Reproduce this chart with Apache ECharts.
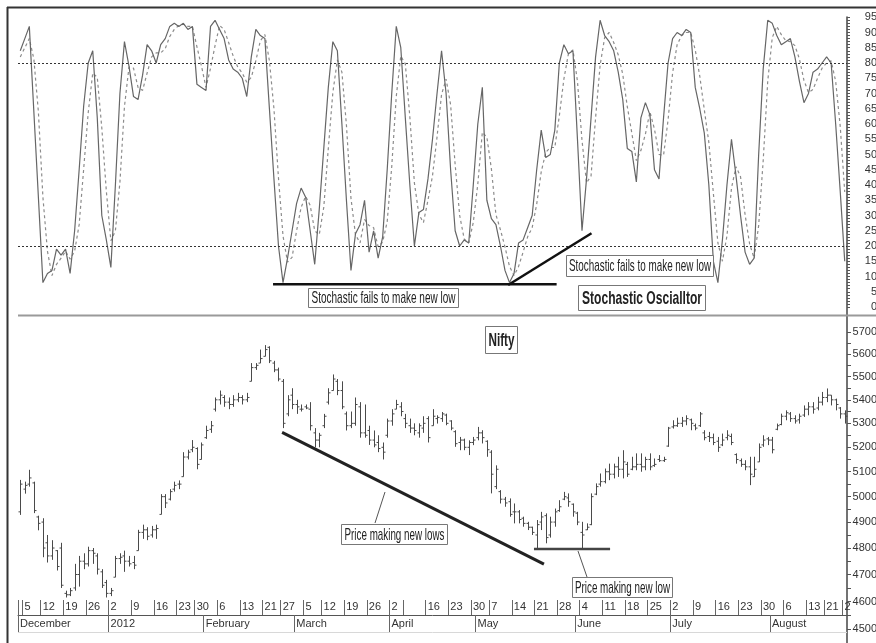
<!DOCTYPE html>
<html><head><meta charset="utf-8">
<script src="https://cdn.jsdelivr.net/npm/echarts@6/dist/echarts.min.js"></script>
<style>html,body{margin:0;padding:0;background:#fff}#c{width:876px;height:643px}</style>
</head><body><div id="c"></div><script>
// ---------------- DATA ----------------
const HOLIDAYS = ['2011-12-06','2012-01-26','2012-02-20','2012-03-08','2012-04-05','2012-04-06','2012-05-01','2012-08-15','2012-08-20'];
const weekLabels = ['','5','12','19','26','2','9','16','23','30','6','13','21','27','5','12','19','26','2','','16','23','30','7','14','21','28','4','11','18','25','2','9','16','23','30','6','13','21','2'];
const monthLabels = ['December','2012','February','March','April','May','June','July','August'];
const stochLabels = [0,5,10,15,20,25,30,35,40,45,50,55,60,65,70,75,80,85,90,95];
const priceLabels = [4500,4600,4700,4800,4900,5000,5100,5200,5300,5400,5500,5600,5700];

const kLine = [84,88,92,64,36,8,11,12,19,17,
19,11,25,45,66,80,84,62,30,22,
13,40,70,87,79,69,68,76,86,84,
80,86,88,92,93,92,93,91,92,73,
72,71,92,94,91,88,81,78,77,75,
69,82,91,89,88,65,42,20,8,16,
25,34,39,36,25,14,32,52,72,87,
84,60,35,12,24,27,35,18,25,16,
23,45,70,92,85,62,40,20,31,32,
42,55,70,84,70,45,25,20,22,21,
40,60,72,35,29,27,20,12,8,11,
21,22,26,30,45,58,49,50,58,80,
86,83,84,55,25,42,62,82,94,89,
87,84,77,68,52,51,41,62,67,63,
45,42,62,80,88,90,89,91,90,72,
65,57,40,15,8,22,40,55,43,30,
18,14,16,50,78,94,93,89,86,87,
88,82,74,67,70,77,78,80,82,80,
60,38,15];
const dLine = [82,85,88,81.3,64,36,18.3,10.3,14,16,
18.3,15.7,18.3,27,45.3,63.7,76.7,75.3,58.7,38,
21.7,25,41,65.7,78.7,78.3,72,71,76.7,82,
83.3,83.3,84.7,88.7,91,92.3,92.7,92,92,85.3,
79,72,78.3,85.7,92.3,91,86.7,82.3,78.7,76.7,
73.7,75.3,80.7,87.3,89.3,80.7,65,42.3,23.3,14.7,
16.3,25,32.7,36.3,33.3,25,23.7,32.7,52,70.3,
81,77,59.7,35.7,23.7,21,28.7,26.7,26,19.7,
21.3,28,46,69,82.3,79.7,62.3,40.7,30.3,27.7,
35,43,55.7,69.7,74.7,66.3,46.7,30,22.3,21,
27.7,40.3,57.3,55.7,45.3,30.3,25.3,19.7,13.3,10.3,
13.3,18,23,26,33.7,44.3,50.7,52.3,52.3,62.7,
74.7,83,84.3,74,54.7,40.7,43,62,79.3,88.3,
90,86.7,82.7,76.3,65.7,57,48,51.3,56.7,64,
58.3,50,49.7,61.3,76.7,86,89,90,90,84.3,
75.7,64.7,54,37.3,21,15,23.3,39,46,42.7,
30.3,20.7,16,26.7,48,74,88.3,92,89.3,87.3,
87,85.7,81.3,74.3,70.3,71.3,75,78.3,80,80.7,
74,59.3,37.7];

const openP = [4940,5030,5050,5055,4920,4900,4820,4770,4790,4800,
4630,4625,4650,4700,4750,4740,4790,4770,4710,4670,
4630,4690,4760,4770,4750,4745,4790,4860,4870,4850,
4870,4930,5000,4990,5030,5050,5080,5160,5190,5195,
5150,5240,5275,5360,5400,5410,5390,5380,5400,5410,
5400,5480,5540,5560,5590,5630,5560,5530,5480,5340,
5420,5380,5360,5370,5360,5260,5230,5290,5390,5440,
5480,5440,5340,5290,5300,5370,5260,5270,5230,5220,
5200,5250,5310,5360,5370,5320,5290,5280,5260,5280,
5320,5290,5320,5320,5335,5310,5265,5220,5230,5200,
5220,5240,5260,5225,5180,5040,5020,4990,4980,4940,
4940,4915,4895,4880,4850,4900,4925,4850,4900,4945,
4990,4995,4970,4935,4860,4870,4890,5010,5050,5060,
5100,5090,5120,5110,5130,5110,5120,5130,5120,5150,
5125,5150,5145,5205,5285,5290,5300,5310,5315,5290,
5290,5260,5245,5240,5225,5210,5240,5245,5170,5145,
5130,5120,5080,5140,5210,5235,5230,5275,5295,5330,
5340,5320,5315,5335,5360,5370,5365,5390,5410,5420,
5400,5365,5340];
const highP = [5067,5060,5108,5060,4925,4915,4850,4830,4792,4820,
4640,4650,4740,4770,4780,4805,4800,4780,4720,4680,
4650,4770,4780,4790,4770,4770,4870,4890,4880,4885,
4890,5010,5010,5030,5060,5065,5180,5190,5230,5200,
5220,5290,5310,5410,5440,5420,5410,5420,5430,5420,
5430,5560,5560,5620,5640,5635,5570,5540,5490,5420,
5450,5400,5380,5380,5390,5280,5260,5340,5450,5510,
5490,5480,5350,5350,5410,5390,5380,5290,5270,5250,
5220,5320,5360,5400,5390,5340,5320,5300,5300,5330,
5330,5360,5334,5348,5341,5313,5271,5243,5236,5229,
5243,5285,5271,5229,5188,5126,5026,4999,4993,4973,
4947,4921,4901,4882,4908,4940,4934,4921,4953,4986,
5019,5013,4973,4940,4901,4895,5013,5053,5093,5113,
5133,5133,5161,5188,5140,5161,5175,5175,5161,5175,
5154,5168,5161,5285,5313,5324,5327,5334,5320,5299,
5348,5271,5264,5257,5243,5257,5271,5257,5175,5154,
5147,5161,5161,5216,5250,5243,5243,5299,5341,5355,
5348,5334,5341,5376,5390,5390,5413,5434,5449,5420,
5405,5369,5355];
const lowP = [4928,5012,5040,4935,4868,4765,4745,4755,4715,4650,
4615,4620,4640,4655,4720,4730,4740,4700,4650,4615,
4620,4690,4740,4710,4730,4720,4790,4835,4830,4840,
4835,4930,4955,4985,5020,5030,5080,5150,5180,5110,
5150,5235,5260,5350,5380,5370,5360,5370,5390,5380,
5390,5480,5530,5560,5590,5560,5520,5480,5280,5330,
5360,5340,5350,5360,5270,5200,5200,5280,5380,5440,
5420,5360,5270,5280,5290,5240,5240,5210,5200,5180,
5150,5240,5290,5360,5330,5280,5260,5250,5240,5260,
5220,5290,5299,5306,5292,5271,5202,5188,5188,5168,
5209,5229,5216,5161,5013,5030,4973,4960,4921,4895,
4895,4882,4869,4850,4799,4869,4818,4840,4882,4940,
4986,4960,4921,4888,4797,4869,4888,5006,5040,5053,
5066,5073,5079,5073,5079,5106,5106,5100,5106,5106,
5120,5140,5140,5202,5278,5285,5285,5292,5271,5271,
5285,5229,5222,5209,5181,5205,5229,5209,5133,5120,
5106,5046,5079,5140,5202,5209,5175,5271,5292,5313,
5306,5299,5299,5327,5334,5341,5355,5376,5390,5376,
5355,5320,5299];
const closeP = [5050,5045,5075,4945,4895,4800,4770,4800,4730,4660,
4625,4640,4700,4750,4740,4790,4780,4720,4660,4630,
4640,4760,4765,4750,4740,4735,4860,4870,4845,4870,
4875,5000,4975,5020,5045,5050,5160,5180,5200,5130,
5210,5270,5290,5400,5420,5390,5380,5400,5410,5400,
5410,5540,5550,5580,5620,5570,5530,5490,5300,5400,
5380,5370,5360,5365,5290,5230,5250,5330,5430,5490,
5440,5370,5290,5300,5380,5260,5250,5230,5210,5195,
5180,5310,5340,5380,5350,5300,5280,5270,5290,5300,
5240,5330,5325,5340,5300,5280,5215,5230,5200,5220,
5230,5260,5240,5190,5090,5110,4990,4975,4930,4940,
4910,4895,4880,4860,4890,4920,4840,4900,4940,4960,
5000,4980,4940,4900,4850,4880,5000,5040,5060,5100,
5090,5120,5110,5140,5090,5120,5130,5120,5150,5120,
5130,5145,5150,5280,5290,5300,5310,5320,5300,5280,
5340,5240,5240,5220,5200,5230,5250,5220,5150,5130,
5120,5090,5110,5200,5230,5230,5190,5290,5330,5345,
5320,5310,5330,5360,5370,5360,5390,5410,5420,5400,
5380,5340,5330];

// annotation anchors (index, value) in data space
const stochSupport = [[55.8, 7.5], [118.4, 7.5]];
const stochRising = [[107.7, 7.2], [126.1, 24.2]];
const priceTrend = [[57.8, 5262], [115.6, 4739]];
const priceFloor = [[113.4, 4796], [130.2, 4796]];

// ---------------- BUILD ----------------
const days = [];
for (let t = Date.UTC(2011, 11, 2); t <= Date.UTC(2012, 7, 27); t += 86400000) {
  const d = new Date(t), wd = d.getUTCDay();
  if (wd === 0 || wd === 6) continue;
  if (HOLIDAYS.includes(d.toISOString().slice(0, 10))) continue;
  days.push(d);
}
const N = kLine.length;
const weekStarts = [], monthStarts = [];
days.forEach((d, i) => {
  if (i === 0 || d.getUTCDay() <= days[i - 1].getUTCDay() || d - days[i - 1] >= 7 * 86400000) weekStarts.push(i);
  if (i === 0 || d.getUTCMonth() !== days[i - 1].getUTCMonth()) monthStarts.push(i);
});
const weekMap = {}, monthMap = {};
weekStarts.forEach((i, k) => weekMap[i - 0.5] = weekLabels[k] !== undefined ? weekLabels[k] : String(days[i].getUTCDate()));
monthStarts.forEach((i, k) => monthMap[i - 0.5] = monthLabels[k] || '');

const LN = Math.log;
const NARROW = "'Liberation Sans Narrow','Arial Narrow','Liberation Sans',Arial,sans-serif";
const X0 = -0.5, X1 = N - 0.5;
const GL = 18, GR = 29;

const stochTicks = []; for (let v = 0; v <= 95; v += 1) stochTicks.push(v);
const priceTicks = []; for (let p = 4500; p <= 5700; p += 50) priceTicks.push(LN(p));

const ohlc = openP.map((o, i) => [i, LN(o), LN(highP[i]), LN(lowP[i]), LN(closeP[i])]);

const chart = echarts.init(document.getElementById('c'), null, {renderer: 'canvas'});

// text boxes
const measure = document.createElement('canvas').getContext('2d');
const boxes = [
  {x: 308, y: 288, w: 150, h: 19, text: 'Stochastic fails to make new low', size: 17, weight: 'normal', tw: 144},
  {x: 566, y: 255, w: 147, h: 21, text: 'Stochastic fails to make new low', size: 17, weight: 'normal', tw: 142},
  {x: 578, y: 285, w: 127, h: 25, text: 'Stochastic Oscialltor', size: 19, weight: 'bold', tw: 120},
  {x: 485, y: 326, w: 32, h: 27, text: 'Nifty', size: 19, weight: 'bold', tw: 26},
  {x: 341, y: 524, w: 106, h: 20, text: 'Price making new lows', size: 17, weight: 'normal', tw: 100},
  {x: 572, y: 577, w: 100, h: 20, text: 'Price making new low', size: 17, weight: 'normal', tw: 95}
];
const elements = [
  {type: 'line', shape: {x1: 7, y1: 7.5, x2: 876, y2: 7.5}, style: {stroke: '#333', lineWidth: 2}, z: 100},
  {type: 'line', shape: {x1: 7.5, y1: 7, x2: 7.5, y2: 643}, style: {stroke: '#333', lineWidth: 2}, z: 100},
  {type: 'line', shape: {x1: 18, y1: 315.5, x2: 876, y2: 315.5}, style: {stroke: '#9a9a9a', lineWidth: 2}, z: 100},
  {type: 'line', shape: {x1: 18, y1: 632.5, x2: 847, y2: 632.5}, style: {stroke: '#d8d8d8', lineWidth: 1}, z: 100},
  {type: 'line', shape: {x1: 375, y1: 523, x2: 385, y2: 492}, style: {stroke: '#555', lineWidth: 1}, z: 100},
  {type: 'line', shape: {x1: 578, y1: 551, x2: 587, y2: 577}, style: {stroke: '#555', lineWidth: 1}, z: 100}
];
boxes.forEach(b => {
  measure.font = b.weight + ' ' + b.size + 'px ' + NARROW;
  const mw = measure.measureText(b.text).width || b.tw;
  elements.push({type: 'rect', shape: {x: b.x + 0.5, y: b.y + 0.5, width: b.w, height: b.h}, style: {fill: '#fff', stroke: '#777', lineWidth: 1}, z: 101});
  elements.push({type: 'text', x: b.x + b.w / 2 + 0.5, y: b.y + b.h / 2 + 1, scaleX: Math.min(1, b.tw / mw), z: 102,
    style: {text: b.text, fontSize: b.size, fontFamily: NARROW, fontWeight: b.weight, fill: '#222', align: 'center', verticalAlign: 'middle'}});
});

const hidX = (g) => ({gridIndex: g, type: 'value', min: X0, max: X1, show: false, axisLine: {onZero: false}});
const option = {
  animation: false,
  backgroundColor: '#fff',
  grid: [
    {left: GL, right: GR, top: 17, height: 298, containLabel: false, outerBoundsMode: 'none'},
    {left: GL, right: GR, top: 316, height: 327, containLabel: false, outerBoundsMode: 'none'},
    {left: GL, right: GR, top: 597, height: 18, containLabel: false, outerBoundsMode: 'none'}
  ],
  xAxis: [
    hidX(0), hidX(1),
    {gridIndex: 2, type: 'value', min: X0, max: X1, position: 'bottom',
      axisLine: {show: true, onZero: false, lineStyle: {color: '#555', width: 1}},
      axisTick: {show: true, inside: true, length: 15, customValues: weekStarts.map(i => i - 0.5), lineStyle: {color: '#666'}},
      axisLabel: {show: true, inside: true, margin: 3, customValues: weekStarts.map(i => i - 0.5), formatter: v => weekMap[v] || '',
        align: 'left', padding: [0, 0, 0, 2], fontSize: 11, fontFamily: NARROW, color: '#333', showMinLabel: true, showMaxLabel: true},
      splitLine: {show: false}},
    {gridIndex: 2, type: 'value', min: X0, max: X1, position: 'bottom',
      axisLine: {show: false, onZero: false},
      axisTick: {show: true, inside: false, length: 17, customValues: monthStarts.map(i => i - 0.5), lineStyle: {color: '#666'}},
      axisLabel: {show: true, margin: 3, customValues: monthStarts.map(i => i - 0.5), formatter: v => monthMap[v] || '',
        align: 'left', padding: [0, 0, 0, 2], fontSize: 11, fontFamily: NARROW, color: '#333', showMinLabel: true, showMaxLabel: true},
      splitLine: {show: false}}
  ],
  yAxis: [
    {gridIndex: 0, type: 'value', position: 'right', min: -2.62, max: 95.08,
      axisLine: {show: true, onZero: false, lineStyle: {color: '#444', width: 1.5}},
      axisTick: {show: true, length: 3, customValues: stochTicks, lineStyle: {color: '#555'}},
      axisLabel: {customValues: stochLabels, align: 'right', margin: 30, fontSize: 11, fontFamily: NARROW, color: '#333', showMinLabel: true, showMaxLabel: true},
      splitLine: {show: false}},
    {gridIndex: 1, type: 'value', position: 'right', min: LN(4451), max: LN(5772),
      axisLine: {show: true, onZero: false, lineStyle: {color: '#444', width: 1.5}},
      axisTick: {show: true, length: 4, customValues: priceTicks, lineStyle: {color: '#555'}},
      axisLabel: {customValues: priceLabels.map(LN), formatter: v => String(Math.round(Math.exp(v))), align: 'right', margin: 30,
        fontSize: 11, fontFamily: NARROW, color: '#333', showMinLabel: true, showMaxLabel: true},
      splitLine: {show: false}},
    {gridIndex: 2, type: 'value', show: false, min: 0, max: 1, axisLine: {onZero: false}}
  ],
  graphic: {elements: elements},
  series: [
    {name: '%K', type: 'line', xAxisIndex: 0, yAxisIndex: 0, data: kLine.map((v, i) => [i, v]), symbol: 'none', silent: true, z: 4,
      lineStyle: {color: '#666', width: 1.2},
      markLine: {silent: true, symbol: ['none', 'none'], label: {show: false}, animation: false,
        lineStyle: {type: [2, 2], color: '#333', width: 1}, data: [{yAxis: 80}, {yAxis: 20}]}},
    {name: '%D', type: 'line', xAxisIndex: 0, yAxisIndex: 0, data: dLine.map((v, i) => [i, v]), symbol: 'none', silent: true, z: 3,
      lineStyle: {color: '#8c8c8c', width: 1.2, type: [3, 3]}},
    {type: 'line', xAxisIndex: 0, yAxisIndex: 0, data: stochSupport, symbol: 'none', silent: true, z: 6, lineStyle: {color: '#111', width: 2.5}},
    {type: 'line', xAxisIndex: 0, yAxisIndex: 0, data: stochRising, symbol: 'none', silent: true, z: 6, lineStyle: {color: '#111', width: 2.5}},
    {type: 'custom', xAxisIndex: 1, yAxisIndex: 1, data: ohlc, silent: true, z: 4,
      encode: {x: 0, y: [1, 2, 3, 4]},
      renderItem: (params, api) => {
        const i = api.value(0);
        const o = api.coord([i, api.value(1)]), h = api.coord([i, api.value(2)]);
        const l = api.coord([i, api.value(3)]), c = api.coord([i, api.value(4)]);
        const x = Math.round(h[0]) + 0.5, st = {stroke: '#4a4a4a', lineWidth: 1};
        return {type: 'group', children: [
          {type: 'line', shape: {x1: x, y1: h[1], x2: x, y2: l[1]}, style: st},
          {type: 'line', shape: {x1: x - 2, y1: o[1], x2: x, y2: o[1]}, style: st},
          {type: 'line', shape: {x1: x, y1: c[1], x2: x + 2, y2: c[1]}, style: st}
        ]};
      }},
    {type: 'line', xAxisIndex: 1, yAxisIndex: 1, data: priceTrend.map(p => [p[0], LN(p[1])]), symbol: 'none', silent: true, z: 6, lineStyle: {color: '#222', width: 3}},
    {type: 'line', xAxisIndex: 1, yAxisIndex: 1, data: priceFloor.map(p => [p[0], LN(p[1])]), symbol: 'none', silent: true, z: 6, lineStyle: {color: '#444', width: 2.5}}
  ]
};
chart.setOption(option);
</script></body></html>
